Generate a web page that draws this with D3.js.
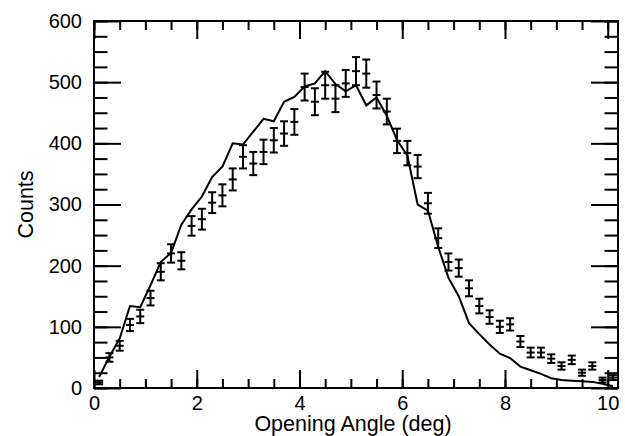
<!DOCTYPE html>
<html>
<head>
<meta charset="utf-8">
<script src="https://cdn.jsdelivr.net/npm/d3@7"></script>
<style>
  body { margin: 0; background: #fff; }
  svg { display: block; }
  .axis text { font-family: "Liberation Sans", Arial, Helvetica, sans-serif; font-size: 20px; fill: #000; }
  .axis line { stroke: #000; stroke-width: 2; }
  .axis path { display: none; }
</style>
</head>
<body>
<svg width="625" height="436"></svg>
<script>
// bin centres (deg), measured counts, their errors, and the model curve
var angles = [0.1, 0.3, 0.5, 0.7, 0.9, 1.1, 1.3, 1.5, 1.7, 1.9,
  2.1, 2.3, 2.5, 2.7, 2.9, 3.1, 3.3, 3.5, 3.7, 3.9,
  4.1, 4.3, 4.5, 4.7, 4.9, 5.1, 5.3, 5.5, 5.7, 5.9,
  6.1, 6.3, 6.5, 6.7, 6.9, 7.1, 7.3, 7.5, 7.7, 7.9,
  8.1, 8.3, 8.5, 8.7, 8.9, 9.1, 9.3, 9.5, 9.7, 9.9, 10.1];

var counts = [9, 50, 69, 103, 117, 147, 190, 220, 208, 265,
  276, 303, 315, 341, 378, 367, 386, 405, 416, 435,
  492, 468, 495, 473, 498, 518, 514, 479, 452, 404,
  384, 362, 302, 245, 206, 196, 163, 134, 116, 100,
  104, 76, 58, 58, 48, 36, 46, 25, 36, 13, 17];

var errors = [3, 7, 8, 10, 11, 12, 14, 15, 14, 16,
  17, 17, 18, 18, 19, 19, 20, 20, 20, 21,
  22, 22, 22, 22, 22, 23, 23, 22, 21, 20,
  20, 19, 17, 16, 14, 14, 13, 12, 11, 10,
  10, 9, 8, 8, 7, 6, 7, 5, 6, 4, 4];

var model = [18, 51, 81, 134, 132, 168, 206, 221, 267, 292,
  313, 345, 362, 400, 398, 419, 440, 436, 468, 476,
  493, 498, 518, 497, 485, 495, 462, 475, 445, 405,
  380, 300, 290, 231, 180, 150, 106, 88, 71, 56,
  49, 35, 29, 23, 16, 13, 12, 11, 10, 7, 3];

var xMajor = [0, 2, 4, 6, 8, 10],
    xMinor = d3.range(0, 10.01, 0.5),
    yMajor = [0, 100, 200, 300, 400, 500, 600],
    yMinor = d3.range(0, 601, 25);

var svg = d3.select("svg"),
    plot = {left: 94, right: 618, top: 21, bottom: 388};

// x range runs a little past 10 (one bin beyond the last label)
var x = d3.scaleLinear().domain([0, 10.2]).range([plot.left, plot.right]);
var y = d3.scaleLinear().domain([0, 600]).range([plot.bottom, plot.top]);

var fontFam = '"Liberation Sans", Arial, Helvetica, sans-serif';

/* ===== AXES ===== */
// minor ticks first, then majors with labels
svg.append("g").attr("class", "axis")
    .attr("transform", "translate(0," + plot.bottom + ")")
    .call(d3.axisBottom(x).tickValues(xMinor).tickSize(-9).tickFormat(""));
svg.append("g").attr("class", "axis")
    .attr("transform", "translate(0," + plot.bottom + ")")
    .call(d3.axisBottom(x).tickValues(xMajor).tickSize(-18).tickPadding(8).tickFormat(d3.format("d")));

svg.append("g").attr("class", "axis")
    .attr("transform", "translate(0," + plot.top + ")")
    .call(d3.axisTop(x).tickValues(xMinor).tickSize(-9).tickFormat(""));
svg.append("g").attr("class", "axis")
    .attr("transform", "translate(0," + plot.top + ")")
    .call(d3.axisTop(x).tickValues(xMajor).tickSize(-18).tickFormat(""));

svg.append("g").attr("class", "axis")
    .attr("transform", "translate(" + plot.left + ",0)")
    .call(d3.axisLeft(y).tickValues(yMinor).tickSize(-13.5).tickFormat(""));
svg.append("g").attr("class", "axis")
    .attr("transform", "translate(" + plot.left + ",0)")
    .call(d3.axisLeft(y).tickValues(yMajor).tickSize(-27).tickPadding(12).tickFormat(d3.format("d")));

svg.append("g").attr("class", "axis")
    .attr("transform", "translate(" + plot.right + ",0)")
    .call(d3.axisRight(y).tickValues(yMinor).tickSize(-13.5).tickFormat(""));
svg.append("g").attr("class", "axis")
    .attr("transform", "translate(" + plot.right + ",0)")
    .call(d3.axisRight(y).tickValues(yMajor).tickSize(-27).tickFormat(""));

// frame
svg.append("rect")
    .attr("x", plot.left).attr("y", plot.top)
    .attr("width", plot.right - plot.left).attr("height", plot.bottom - plot.top)
    .attr("fill", "none").attr("stroke", "#000").attr("stroke-width", 2);

/* ===== MODEL CURVE ===== */
var line = d3.line()
    .x(function(d, i) { return x(angles[i]); })
    .y(function(d) { return y(d); });

svg.append("path")
    .datum(model)
    .attr("d", line)
    .attr("fill", "none")
    .attr("stroke", "#000")
    .attr("stroke-width", 2)
    .attr("stroke-linejoin", "miter");

/* ===== DATA WITH ERROR BARS ===== */
var cap = 4;
var pts = svg.append("g")
    .attr("stroke", "#000")
    .attr("stroke-width", 2)
  .selectAll("g")
  .data(counts)
  .enter().append("g");

pts.append("line")
    .attr("x1", function(d, i) { return x(angles[i]); })
    .attr("x2", function(d, i) { return x(angles[i]); })
    .attr("y1", function(d, i) { return y(d - errors[i]); })
    .attr("y2", function(d, i) { return y(d + errors[i]); });

pts.append("line")
    .attr("x1", function(d, i) { return x(angles[i]) - cap; })
    .attr("x2", function(d, i) { return x(angles[i]) + cap; })
    .attr("y1", function(d, i) { return y(d + errors[i]); })
    .attr("y2", function(d, i) { return y(d + errors[i]); });

pts.append("line")
    .attr("x1", function(d, i) { return x(angles[i]) - cap; })
    .attr("x2", function(d, i) { return x(angles[i]) + cap; })
    .attr("y1", function(d, i) { return y(d - errors[i]); })
    .attr("y2", function(d, i) { return y(d - errors[i]); });

pts.append("line")
    .attr("x1", function(d, i) { return x(angles[i]) - cap; })
    .attr("x2", function(d, i) { return x(angles[i]) + cap; })
    .attr("y1", function(d) { return y(d); })
    .attr("y2", function(d) { return y(d); });

/* ===== AXIS TITLES ===== */
svg.append("text")
    .attr("x", 353)
    .attr("y", 431)
    .attr("text-anchor", "middle")
    .attr("font-family", fontFam)
    .attr("font-size", 21.5)
    .text("Opening Angle (deg)");

svg.append("text")
    .attr("transform", "translate(33," + (plot.top + plot.bottom) / 2 + ") rotate(-90)")
    .attr("text-anchor", "middle")
    .attr("font-family", fontFam)
    .attr("font-size", 21.5)
    .text("Counts");
</script>
</body>
</html>
